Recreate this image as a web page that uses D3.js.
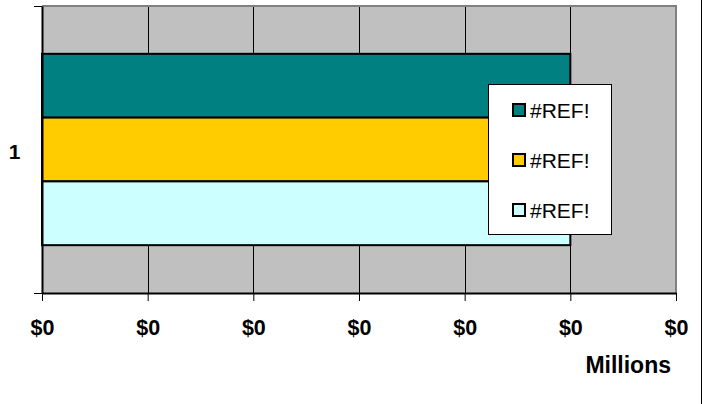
<!DOCTYPE html>
<html>
<head>
<meta charset="utf-8">
<script src="https://cdn.jsdelivr.net/npm/d3@7"></script>
<style>
  html, body { margin: 0; padding: 0; background: #fff; }
  svg { display: block; font-family: Arial, "Liberation Sans", sans-serif; }
</style>
</head>
<body>
<svg id="chart" width="710" height="404"></svg>
<script>
const categories = ["1"];
const seriesNames = ["#REF!", "#REF!", "#REF!"];
const seriesValues = [5, 5, 5];
const seriesColors = ["#008080", "#FFCC00", "#CCFFFF"];
const tickValues = [0, 1, 2, 3, 4, 5, 6];
const tickLabels = ["$0", "$0", "$0", "$0", "$0", "$0", "$0"];
const axisTitle = "Millions";

const svg = d3.select("#chart");
const plot = { left: 42, right: 676, top: 6, bottom: 293 };

const x = d3.scaleLinear().domain([0, 6]).range([plot.left, plot.right]);
const y = d3.scaleBand().domain(categories).range([plot.top, plot.bottom]);

// plot background
svg.append("rect")
  .attr("x", plot.left).attr("y", plot.top)
  .attr("width", plot.right - plot.left).attr("height", plot.bottom - plot.top)
  .attr("fill", "#C0C0C0");

// gridlines
svg.append("g").selectAll("line").data(tickValues.slice(1, -1)).join("line")
  .attr("x1", d => Math.round(x(d)) + 0.5).attr("x2", d => Math.round(x(d)) + 0.5)
  .attr("y1", plot.top).attr("y2", plot.bottom)
  .attr("stroke", "#000").attr("stroke-width", 1);

// plot border (top & right gray)
svg.append("path")
  .attr("d", `M${plot.left},${plot.top} H${plot.right} V${plot.bottom}`)
  .attr("fill", "none").attr("stroke", "#808080").attr("stroke-width", 2);

// bars (gap width 150%)
categories.forEach(cat => {
  const b0 = y(cat), bw = y.bandwidth();
  const w = bw / (seriesValues.length + 1.5);
  const inner = d3.scaleBand().domain(d3.range(seriesValues.length))
    .range([b0 + 0.75 * w, b0 + bw - 0.75 * w]);
  svg.append("g").selectAll("rect").data(seriesValues).join("rect")
    .attr("x", x(0))
    .attr("y", (d, i) => inner(i))
    .attr("width", d => x(d) - x(0))
    .attr("height", inner.bandwidth())
    .attr("fill", (d, i) => seriesColors[i])
    .attr("stroke", "#000").attr("stroke-width", 2);
});

// x axis
const xAxis = d3.axisBottom(x).tickValues(tickValues)
  .tickFormat((d, i) => tickLabels[i]).tickSize(8).tickSizeOuter(0).tickPadding(19);
const gx = svg.append("g").attr("transform", `translate(0,${plot.bottom})`).call(xAxis);
gx.select(".domain").attr("stroke", "#000").attr("stroke-width", 2);
gx.selectAll(".tick line").attr("stroke", "#000");
gx.selectAll(".tick text")
  .attr("font-family", "Arial, 'Liberation Sans', sans-serif")
  .attr("font-size", 21.5).attr("font-weight", "bold").attr("fill", "#000");

// y axis
const yAxis = d3.axisLeft(d3.scaleLinear().domain([0, 1]).range([plot.bottom, plot.top]))
  .tickValues([0, 1]).tickFormat("").tickSize(8).tickSizeOuter(0);
const gy = svg.append("g").attr("transform", `translate(${plot.left},0)`).call(yAxis);
gy.select(".domain").attr("stroke", "#000").attr("stroke-width", 2);
gy.selectAll(".tick line").attr("stroke", "#000");

// category label
svg.append("g").selectAll("text").data(categories).join("text")
  .attr("x", 14.5).attr("y", d => y(d) + y.bandwidth() / 2 + 9)
  .attr("text-anchor", "middle")
  .attr("font-size", 21).attr("font-weight", "bold").attr("fill", "#000")
  .text(d => d);

// axis title
svg.append("text")
  .attr("x", 671).attr("y", 373)
  .attr("text-anchor", "end")
  .attr("font-size", 23).attr("font-weight", "bold").attr("fill", "#000")
  .text(axisTitle);

// legend
const lg = svg.append("g");
lg.append("rect")
  .attr("x", 488.5).attr("y", 84.5).attr("width", 123).attr("height", 150)
  .attr("fill", "#fff").attr("stroke", "#000").attr("stroke-width", 1);
const items = lg.selectAll("g.item").data(seriesNames).join("g")
  .attr("class", "item")
  .attr("transform", (d, i) => `translate(0,${110 + i * 50})`);
items.append("rect")
  .attr("x", 513).attr("y", -6).attr("width", 12).attr("height", 12)
  .attr("fill", (d, i) => seriesColors[i])
  .attr("stroke", "#000").attr("stroke-width", 2);
items.append("text")
  .attr("x", 530).attr("y", 7.5)
  .attr("font-size", 21).attr("fill", "#000")
  .text(d => d);

// outer chart border on right
svg.append("line")
  .attr("x1", 701.5).attr("x2", 701.5).attr("y1", 0).attr("y2", 404)
  .attr("stroke", "#000").attr("stroke-width", 1);
</script>
</body>
</html>
